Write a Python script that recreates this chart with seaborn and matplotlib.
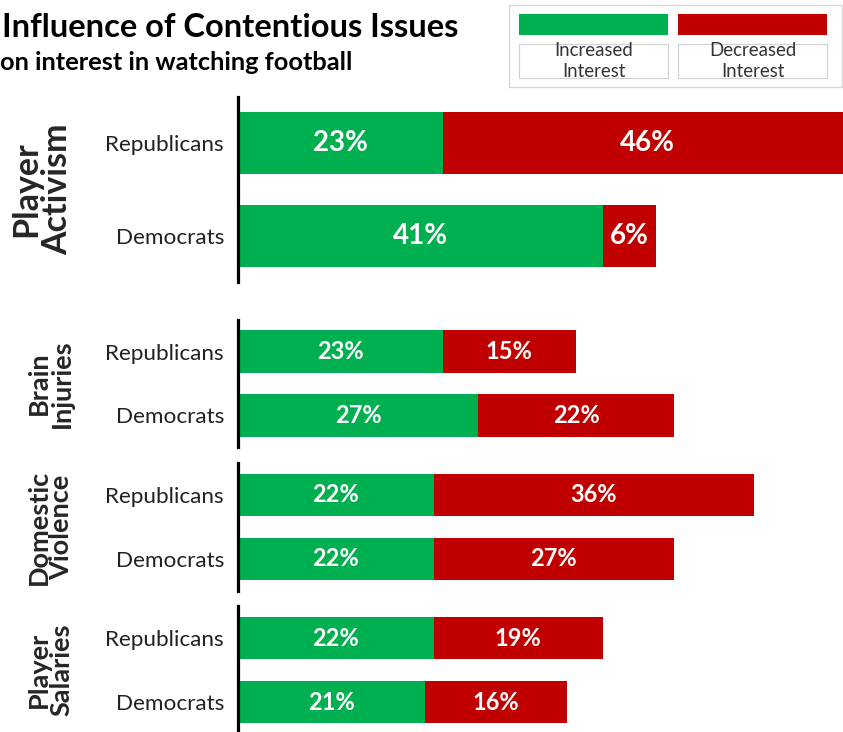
import matplotlib
matplotlib.use("Agg")
import matplotlib.pyplot as plt
import seaborn as sns
import pandas as pd
from matplotlib.patches import Rectangle

sns.set_style("white")
plt.rcParams['font.family'] = ['Lato', 'DejaVu Sans']

issues = ["Player\nActivism", "Brain\nInjuries", "Domestic\nViolence", "Player\nSalaries"]
parties = ["Republicans", "Democrats"]
increased = [[23, 41], [23, 27], [22, 22], [22, 21]]
decreased = [[46, 6], [15, 22], [36, 27], [19, 16]]
legend_labels = ["Increased\nInterest", "Decreased\nInterest"]
title = "Influence of Contentious Issues"
subtitle = "on interest in watching football"

GREEN = "#00B050"
RED = "#C00000"

W, H = 843, 732
fig = plt.figure(figsize=(W / 100, H / 100), dpi=100)

# panel layout in pixels: (top, bottom)
panels = [(97, 282), (320, 447), (463, 591), (606, 734)]
left_px, right_px = 238, 843
xmax = 68
label_sizes = [20, 17, 17, 17]
group_sizes = [24.5, 19.5, 19.5, 19.5]
group_x = [42, 50, 50, 50]

for i, issue in enumerate(issues):
    top, bot = panels[i]
    ax = fig.add_axes([left_px / W, (H - bot) / H, (right_px - left_px) / W, (bot - top) / H])
    df = pd.DataFrame({
        "party": parties,
        "inc": increased[i],
        "dec": decreased[i],
    })
    df["total"] = df["inc"] + df["dec"]
    sns.barplot(data=df, x="total", y="party", color=RED, width=0.67, ax=ax,
                saturation=1, edgecolor="none", order=parties)
    sns.barplot(data=df, x="inc", y="party", color=GREEN, width=0.67, ax=ax,
                saturation=1, edgecolor="none", order=parties)
    ax.set_xlim(0, xmax)
    ax.set_ylim(1.5, -0.5)
    ax.set_xlabel("")
    ax.set_ylabel("")
    ax.set_xticks([])
    for s in ["top", "right", "bottom"]:
        ax.spines[s].set_visible(False)
    ax.spines["left"].set_linewidth(2.3)
    ax.spines["left"].set_color("black")
    ax.tick_params(axis="y", length=0, pad=10, labelsize=16.2, labelcolor="#222222")
    for j, p in enumerate(parties):
        inc = df["inc"][j]
        dec = df["dec"][j]
        ax.text(inc / 2, j, f"{inc}%", ha="center", va="center", color="white",
                fontsize=label_sizes[i], fontweight="bold")
        ax.text(inc + dec / 2, j, f"{dec}%", ha="center", va="center", color="white",
                fontsize=label_sizes[i], fontweight="bold")
    fig.text(group_x[i] / W, (H - (top + bot) / 2) / H, issue, rotation=90,
             ha="center", va="center", multialignment="center",
             fontsize=group_sizes[i], fontweight="bold", linespacing=0.95)

# titles
fig.text(2 / W, 1 - 37 / H, title, fontsize=23.5, fontweight="bold", ha="left",
         va="baseline", color="black")
fig.text(0 / W, 1 - 70 / H, subtitle, fontsize=18.3, fontweight="bold", ha="left",
         va="baseline", color="black")

# legend
fig.patches.append(Rectangle((509 / W, 1 - 87 / H), (842 - 509) / W, 82 / H,
                             transform=fig.transFigure, facecolor="white",
                             edgecolor="#d9d9d9", linewidth=1))
for k, (col, lab) in enumerate(zip([GREEN, RED], legend_labels)):
    x0 = 519 + k * 159
    fig.patches.append(Rectangle((x0 / W, 1 - 35 / H), 149 / W, 21 / H,
                                 transform=fig.transFigure, facecolor=col,
                                 edgecolor="none"))
    fig.patches.append(Rectangle((x0 / W, 1 - 78 / H), 149 / W, 34 / H,
                                 transform=fig.transFigure, facecolor="white",
                                 edgecolor="#d0d0d0", linewidth=0.8))
    fig.text((x0 + 74.5) / W, 1 - 61 / H, lab, ha="center", va="center",
             fontsize=13.4, color="#333333", linespacing=1.25)

fig.savefig("out.png", dpi=100)
